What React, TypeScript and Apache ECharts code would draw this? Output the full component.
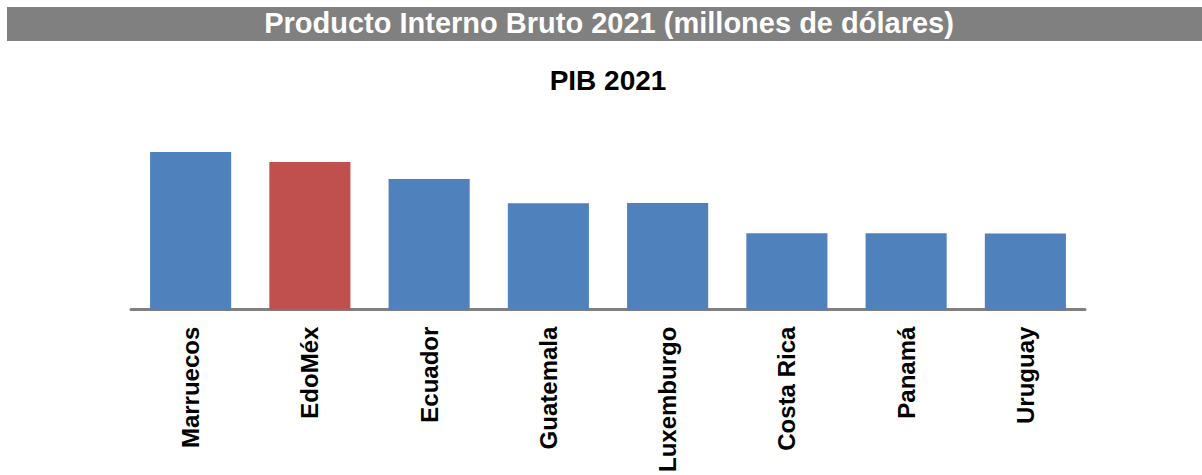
import React, { useEffect, useRef } from "react";
import * as echarts from "echarts";

const headerTitle = "Producto Interno Bruto 2021 (millones de dólares)";
const chartTitle = "PIB 2021";
const categories = ["Marruecos", "EdoMéx", "Ecuador", "Guatemala", "Luxemburgo", "Costa Rica", "Panamá", "Uruguay"];
const values = [142900, 133870, 118350, 96440, 96700, 69260, 69260, 69000];
const highlight = "EdoMéx";

const BLUE = "#4F81BD";
const RED = "#C0504D";
const FONT = "'Liberation Sans', Arial, Helvetica, sans-serif";

export default function App() {
  const ref = useRef<HTMLDivElement>(null);
  useEffect(() => {
    if (!ref.current) return;
    const chart = echarts.init(ref.current, null, { renderer: "svg" });
    chart.setOption({
      animation: false,
      backgroundColor: "#ffffff",
      graphic: [
        { type: "rect", shape: { x: 7, y: 7, width: 1195, height: 34 }, style: { fill: "#808080" }, silent: true },
        {
          type: "text",
          x: 609,
          y: 23,
          style: {
            text: headerTitle,
            fill: "#ffffff",
            font: `bold 29px ${FONT}`,
            textAlign: "center",
            textVerticalAlign: "middle",
          },
        },
        {
          type: "text",
          x: 608,
          y: 80,
          style: {
            text: chartTitle,
            fill: "#000000",
            font: `bold 28px ${FONT}`,
            textAlign: "center",
            textVerticalAlign: "middle",
          },
        },
      ],
      grid: { left: 131, right: 117, top: 152, bottom: 160, containLabel: false },
      xAxis: {
        type: "category",
        data: categories,
        axisLine: { show: true, lineStyle: { color: "#808080", width: 3 } },
        axisTick: { show: false },
        axisLabel: {
          rotate: 90,
          margin: 17,
          interval: 0,
          color: "#000000",
          fontWeight: "bold",
          fontSize: 24,
          fontFamily: FONT,
        },
      },
      yAxis: {
        type: "value",
        min: 0,
        max: 142900,
        show: false,
        splitLine: { show: false },
      },
      series: [
        {
          type: "bar",
          barCategoryGap: "32%",
          data: values.map((v, i) => ({
            value: v,
            itemStyle: { color: categories[i] === highlight ? RED : BLUE },
          })),
        },
      ],
    });
    return () => chart.dispose();
  }, []);
  return (
    <div
      ref={ref}
      style={{ position: "fixed", left: 0, top: 0, width: 1202, height: 475, background: "#fff" }}
    />
  );
}
